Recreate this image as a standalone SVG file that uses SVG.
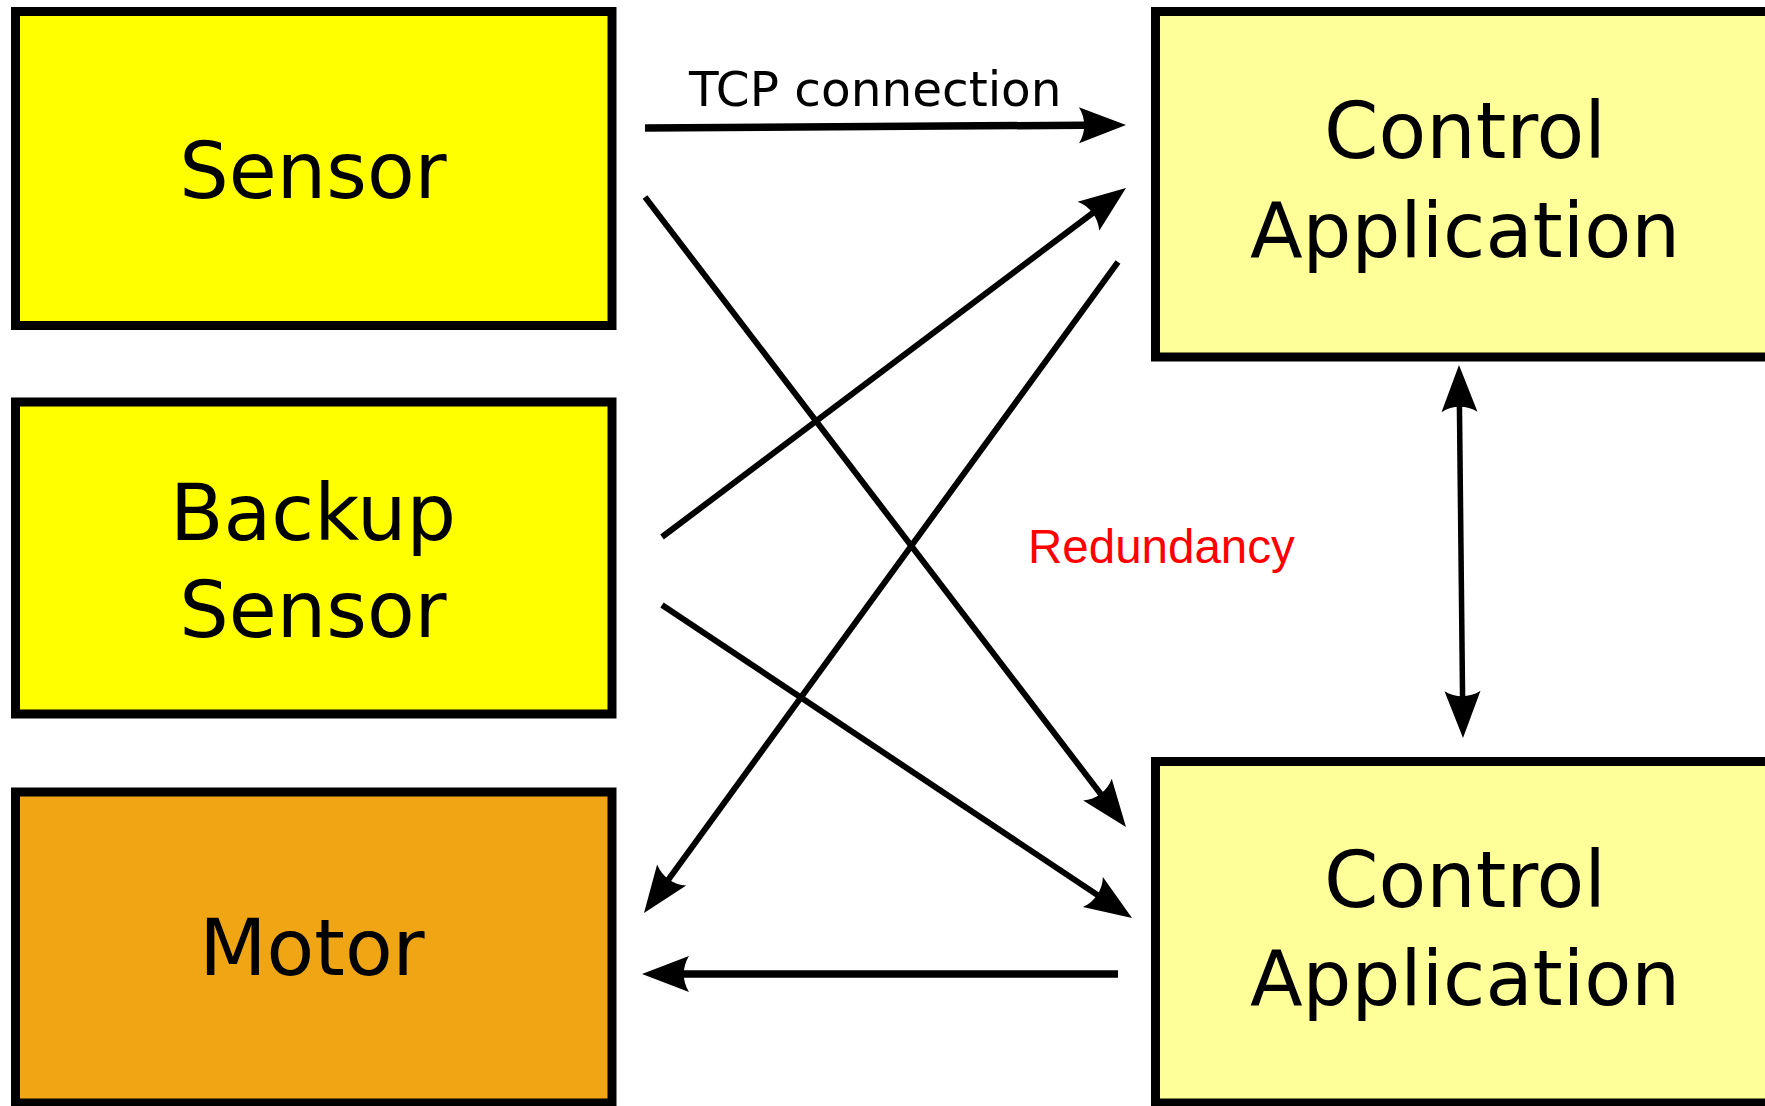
<svg xmlns="http://www.w3.org/2000/svg" width="1765" height="1106" viewBox="0 0 1765 1106">
<style>
.box{stroke:#000;stroke-width:9}
.lbl{font-family:"DejaVu Sans",Verdana,sans-serif;font-size:78px;fill:#000;text-anchor:middle}
.app{font-size:77px}
.conn{fill:none;stroke:#000}
</style>
<defs>
<marker id="ah" markerUnits="userSpaceOnUse" viewBox="-40 -20 54 40" refX="0" refY="0" markerWidth="54" markerHeight="40" orient="auto-start-reverse" overflow="visible">
<path d="M10,0 L-37,-18 C-30,-7 -30,7 -37,18 Z" fill="#000"/>
</marker>
</defs>
<rect width="1765" height="1106" fill="#fff"/>
<g id="sensor">
<rect class="box" x="15.5" y="11.5" width="596.5" height="314" fill="#ffff00"/>
<text class="lbl" x="313" y="198">Sensor</text>
</g>
<g id="backup-sensor">
<rect class="box" x="15.5" y="402" width="596.5" height="312" fill="#ffff00"/>
<text class="lbl" x="313" y="540">Backup</text>
<text class="lbl" x="313" y="637">Sensor</text>
</g>
<g id="motor">
<rect class="box" x="15.5" y="792" width="596.5" height="311" fill="#f0a614"/>
<text class="lbl" x="312" y="975">Motor</text>
</g>
<g id="control-app-1">
<rect class="box" x="1155.5" y="11.5" width="620" height="345.5" fill="#ffff99"/>
<text class="lbl" x="1465" y="158">Control</text>
<text class="lbl app" x="1465" y="257">Application</text>
</g>
<g id="control-app-2">
<rect class="box" x="1155.5" y="761.5" width="620" height="341.5" fill="#ffff99"/>
<text class="lbl" x="1465" y="907">Control</text>
<text class="lbl app" x="1465" y="1005">Application</text>
</g>
<g id="connectors">
<path class="conn" stroke-width="7.5" d="M645,128 L1116,125" marker-end="url(#ah)"/>
<path class="conn" stroke-width="6" d="M645,197 L1119.9,819.1" marker-end="url(#ah)"/>
<path class="conn" stroke-width="6" d="M662,537 L1118,194" marker-end="url(#ah)"/>
<path class="conn" stroke-width="6" d="M1118,262 L649.9,904.9" marker-end="url(#ah)"/>
<path class="conn" stroke-width="6" d="M662,605 L1123.7,912.5" marker-end="url(#ah)"/>
<path class="conn" stroke-width="7.5" d="M1118,974 L652,974" marker-end="url(#ah)"/>
<path class="conn" stroke-width="5.5" d="M1459.1,375 L1462.9,728" marker-start="url(#ah)" marker-end="url(#ah)"/>
<text x="689" y="106" font-family="'DejaVu Sans',Verdana,sans-serif" font-size="48.5" fill="#000">TCP connection</text>
<text x="1028" y="563" font-family="'Liberation Sans',Arial,sans-serif" font-size="47.5" fill="#ff0000">Redundancy</text>
</g>
</svg>
